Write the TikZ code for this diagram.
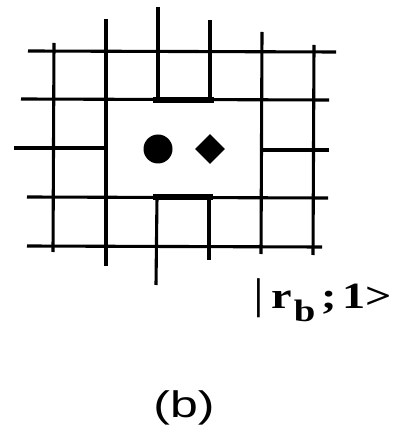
\documentclass[tikz,border=0pt]{standalone}
\usepackage{fontspec}
\setmainfont{Liberation Serif}
\newfontfamily\labelsans{Liberation Sans}
\usetikzlibrary{shapes.geometric}
\tikzset{
  gridline/.style={line width=3.1pt, line cap=butt},
  barline/.style={line width=6.8pt, line cap=butt},
  dot/.style={circle, fill=black, inner sep=0pt, minimum size=29pt},
  rhomb/.style={diamond, fill=black, inner sep=0pt, minimum width=30pt, minimum height=30pt},
}
\begin{document}
\begin{tikzpicture}[x=1pt,y=-1pt]
\useasboundingbox (0,0) rectangle (396,427);
% horizontal lines
\draw[gridline] (28,51) -- (336,52);
\draw[gridline] (21,99) -- (329,100);
\draw[gridline] (14,148) -- (106,148);
\draw[gridline] (263,150) -- (329,150);
\draw[gridline] (27,197) -- (328,198);
\draw[gridline] (27,246) -- (322,247);
% vertical lines
\draw[gridline] (54,43) -- (53,252);
\draw[gridline] (106,19) -- (106,266);
\draw[gridline] (158,7) -- (158,100);
\draw[gridline] (157,197) -- (156,285);
\draw[gridline] (210,20) -- (210,100);
\draw[gridline] (209,197) -- (209,260);
\draw[gridline] (262,32) -- (261,254);
\draw[gridline] (314,45) -- (313,255);
% thick bars
\draw[barline] (153,100) -- (214,100);
\draw[barline] (153,197) -- (213,197);
% particles
\node[dot] (p1) at (158,149) {};
\node[rhomb] (p2) at (210,149) {};
% labels
\node[anchor=base west, inner sep=0pt, font=\fontsize{37}{40}\selectfont\bfseries] (ket) at (253,308)
  {\scalebox{1.25}[1]{{\mdseries\fontsize{43}{43}\selectfont|}\hspace{6pt}r\hspace{1.5pt}\raisebox{-13pt}{\fontsize{31}{31}\selectfont b}\hspace{5pt};\hspace{4pt}1>}};
\node[anchor=base, inner sep=0pt, font=\labelsans\fontsize{37}{40}\selectfont] (cap) at (184,417) {\scalebox{1.35}[1]{(b)}};
\end{tikzpicture}
\end{document}
